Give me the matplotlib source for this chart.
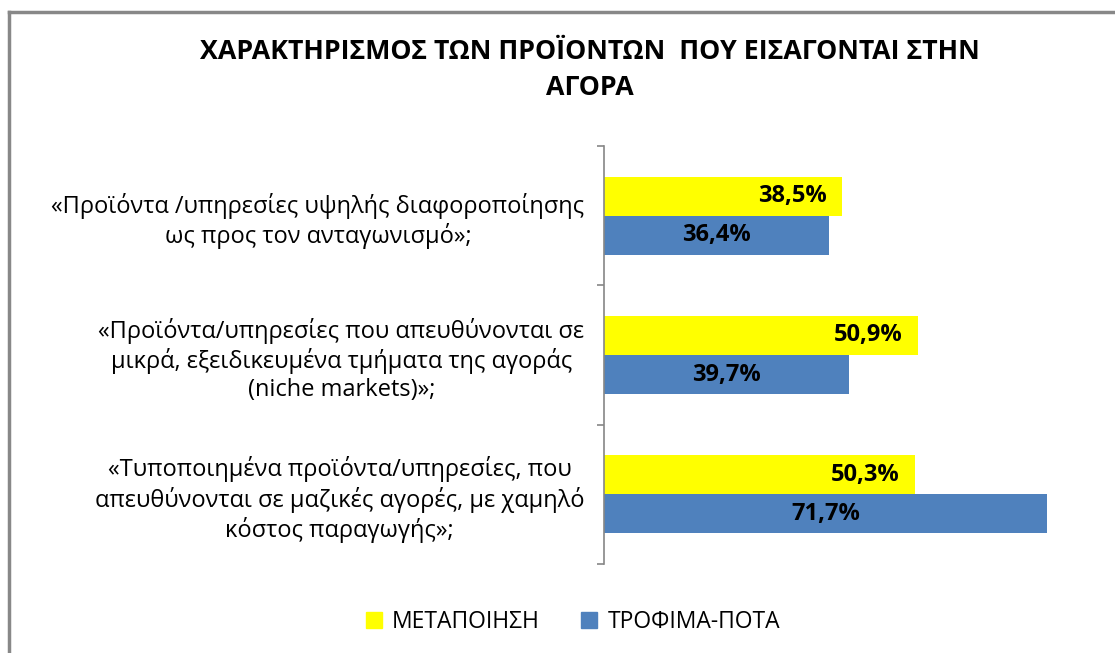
import matplotlib.pyplot as plt
from matplotlib.lines import Line2D
from matplotlib.patches import Patch

plt.rcParams["font.family"] = ["Open Sans", "DejaVu Sans"]

TITLE = "ΧΑΡΑΚΤΗΡΙΣΜΟΣ ΤΩΝ ΠΡΟΪΟΝΤΩΝ  ΠΟΥ ΕΙΣΑΓΟΝΤΑΙ ΣΤΗΝ\nΑΓΟΡΑ"
CATEGORIES = [
    "«Προϊόντα /υπηρεσίες υψηλής διαφοροποίησης\nως προς τον ανταγωνισμό»;",
    "«Προϊόντα/υπηρεσίες που απευθύνονται σε\nμικρά, εξειδικευμένα τμήματα της αγοράς\n(niche markets)»;",
    "«Τυποποιημένα προϊόντα/υπηρεσίες, που\nαπευθύνονται σε μαζικές αγορές, με χαμηλό\nκόστος παραγωγής»;",
]
SERIES = ["ΜΕΤΑΠΟΙΗΣΗ", "ΤΡΟΦΙΜΑ-ΠΟΤΑ"]
METAPOIISI = [38.5, 50.9, 50.3]
TROFIMA = [36.4, 39.7, 71.7]

YELLOW = "#FFFF00"
BLUE = "#4F81BD"
GRAY = "#868686"


def pct(v):
    return f"{v:.1f}%".replace(".", ",")


def main():
    fig = plt.figure(figsize=(11.15, 6.53), dpi=100)
    ax = fig.add_axes([0.5417, 0.1363, 0.4431, 0.6401])

    y = list(range(len(CATEGORIES)))
    h = 0.28
    bars_m = ax.barh([i - h / 2 for i in y], METAPOIISI, height=h, color=YELLOW)
    bars_t = ax.barh([i + h / 2 for i in y], TROFIMA, height=h, color=BLUE)

    ax.set_xlim(0, 80)
    ax.set_ylim(2.5, -0.5)

    # yellow labels sit inside the bar end, blue ones in the middle
    for bar, v in zip(bars_m, METAPOIISI):
        ax.annotate(pct(v), (v, bar.get_y() + bar.get_height() / 2),
                    xytext=(-11, 0), textcoords="offset points",
                    ha="right", va="center", fontsize=17, fontweight="bold")
    for bar, v in zip(bars_t, TROFIMA):
        ax.text(v / 2, bar.get_y() + bar.get_height() / 2, pct(v),
                ha="center", va="center", fontsize=17, fontweight="bold")

    ax.set_yticks(y)
    ax.set_yticklabels(CATEGORIES, fontsize=17, multialignment="center",
                       linespacing=1.22)
    ax.set_yticks([-0.5, 0.5, 1.5, 2.5], minor=True)
    ax.tick_params(axis="y", which="major", length=0, pad=14)
    ax.tick_params(axis="y", which="minor", length=5, width=1.2, color=GRAY)
    ax.set_xticks([])

    for side in ("top", "right", "bottom"):
        ax.spines[side].set_visible(False)
    ax.spines["left"].set_color(GRAY)
    ax.spines["left"].set_linewidth(1.2)

    fig.text(0.529, 0.893, TITLE, ha="center", va="center", fontsize=19.3,
             fontweight="bold", linespacing=1.5)

    handles = [Patch(color=YELLOW), Patch(color=BLUE)]
    fig.legend(handles, SERIES, loc="center", bbox_to_anchor=(0.514, 0.047),
               ncol=2, frameon=False, fontsize=16.5, handlelength=0.7,
               handleheight=0.7, handletextpad=0.45, columnspacing=1.8)

    # chart frame (left and top edges)
    fig.add_artist(Line2D([0.0085, 0.0085], [0, 0.982], color="#888888", lw=2.5,
                          transform=fig.transFigure))
    fig.add_artist(Line2D([0.0085, 1.0], [0.982, 0.982], color="#888888", lw=2.5,
                          transform=fig.transFigure))

    fig.savefig("out.png", dpi=100)


if __name__ == "__main__":
    main()
